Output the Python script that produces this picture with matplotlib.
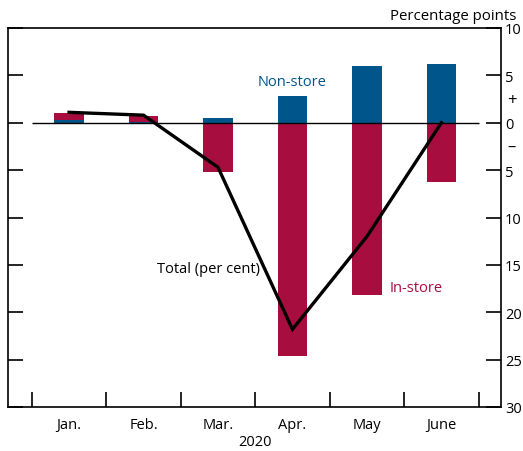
import matplotlib
matplotlib.use("Agg")
import matplotlib.pyplot as plt
import numpy as np

plt.rcParams['font.family'] = ['Open Sans', 'DejaVu Sans']

months = ["Jan.", "Feb.", "Mar.", "Apr.", "May", "June"]
non_store = [0.25, 0.05, 0.5, 2.85, 6.0, 6.2]
in_store = [0.8, 0.7, -5.2, -24.6, -18.2, -6.25]
total = [1.1, 0.8, -4.7, -21.8, -12.0, 0.0]
yticks = [10, 5, 0, -5, -10, -15, -20, -25, -30]

blue = "#00558b"
red = "#a80d3f"

W, H = 523, 452
fig = plt.figure(figsize=(W/100, H/100), dpi=100)
ax = fig.add_axes([8/W, (H-408)/H, 493/W, 379/H])

x = np.arange(len(months))
ns = np.array(non_store)
ins = np.array(in_store)
# in-store stacked on non-store when both positive
bottom_in = np.where(ins > 0, np.maximum(ns, 0), 0)
ax.bar(x, ns, width=0.4, color=blue, zorder=2)
ax.bar(x, ins, width=0.4, bottom=bottom_in, color=red, zorder=2)
ax.hlines(0, -0.5, len(months)-0.5, color="black", lw=1.0, zorder=3)
ax.plot(x, total, color="black", lw=2.4, zorder=4, solid_joinstyle="miter")

ax.set_xlim(-0.82, 5.80)
ax.set_ylim(-30, 10)

ax.set_xticks(np.arange(-0.5, len(months), 1.0))
ax.set_xticklabels([])
ax.set_xticks(x, minor=True)
ax.set_xticklabels(months, minor=True, fontsize=10.5)
ax.tick_params(axis='x', which='major', direction='in', length=10.5, width=1.2)
ax.tick_params(axis='x', which='minor', length=0, pad=7)

ax.set_yticks(yticks)
ax.set_yticklabels([str(abs(v)) for v in yticks], fontsize=10.5)
ax.yaxis.set_ticks_position('both')
ax.yaxis.set_label_position('right')
ax.tick_params(axis='y', which='major', direction='in', length=11, width=1.2,
               left=True, right=True, labelleft=False, labelright=True, pad=3)

for s in ax.spines.values():
    s.set_linewidth(1.2)

ax.text(3.0, 4.4, "Non-store", color=blue, fontsize=10.5, ha='center', va='center')
ax.text(4.3, -17.4, "In-store", color=red, fontsize=10.5, ha='left', va='center')
ax.text(1.87, -15.4, "Total (per cent)", color="black", fontsize=10.5, ha='center', va='center')
fig.text(516/W, 1-16/H, "Percentage points", fontsize=10.8, ha='right', va='center')
fig.text(512/W, 1-101/H, "+", fontsize=12, ha='center', va='center')
fig.text(512/W, 1-148/H, "\u2013", fontsize=12, ha='center', va='center')
fig.text(255/W, 1-443/H, "2020", fontsize=10.5, ha='center', va='center')

fig.savefig("out.png", dpi=100)
